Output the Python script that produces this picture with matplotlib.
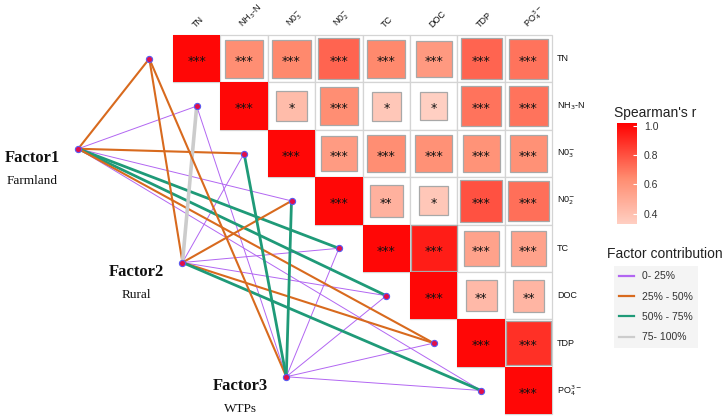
import matplotlib
matplotlib.use("Agg")
import matplotlib.pyplot as plt
import numpy as np
from matplotlib.patches import Rectangle
from matplotlib.colors import LinearSegmentedColormap, Normalize
from matplotlib.lines import Line2D
import matplotlib.colorbar as mcolorbar

# ---------------- data ----------------
variables = ["TN", "NH3-N", "NO3", "NO2", "TC", "DOC", "TDP", "PO4"]
top_labels = ["TN", r"NH$_3$-N", r"N0$_3^{-}$", r"N0$_2^{-}$", "TC", "DOC", "TDP", r"PO$_4^{3-}$"]
right_labels = ["TN", r"NH$_3$-N", r"N0$_3^{-}$", r"N0$_2^{-}$", "TC", "DOC", "TDP", r"PO$_4^{3-}$"]

# Spearman's r (upper triangle, row i, col j>i)
r_TN  = [1.00, 0.63, 0.65, 0.75, 0.65, 0.58, 0.75, 0.71]
r_NH3 = [1.00, 0.42, 0.63, 0.37, 0.33, 0.71, 0.71]
r_NO3 = [1.00, 0.57, 0.63, 0.62, 0.61, 0.62]
r_NO2 = [1.00, 0.47, 0.37, 0.80, 0.72]
r_TC  = [1.00, 0.94, 0.54, 0.54]
r_DOC = [1.00, 0.43, 0.45]
r_TDP = [1.00, 0.89]
r_PO4 = [1.00]
r_rows = [r_TN, r_NH3, r_NO3, r_NO2, r_TC, r_DOC, r_TDP, r_PO4]

sig_TN  = ["***", "***", "***", "***", "***", "***", "***", "***"]
sig_NH3 = ["***", "*", "***", "*", "*", "***", "***"]
sig_NO3 = ["***", "***", "***", "***", "***", "***"]
sig_NO2 = ["***", "**", "*", "***", "***"]
sig_TC  = ["***", "***", "***", "***"]
sig_DOC = ["***", "**", "**"]
sig_TDP = ["***", "***"]
sig_PO4 = ["***"]
sig_rows = [sig_TN, sig_NH3, sig_NO3, sig_NO2, sig_TC, sig_DOC, sig_TDP, sig_PO4]

# Factor contribution class per variable (0: 0-25%, 1: 25-50%, 2: 50-75%, 3: 75-100%)
factor_names = ["Factor1", "Factor2", "Factor3"]
factor_sources = ["Farmland", "Rural", "WTPs"]
factor1_class = [1, 0, 1, 0, 2, 2, 1, 0]
factor2_class = [1, 3, 0, 1, 0, 0, 1, 2]
factor3_class = [1, 0, 2, 2, 0, 0, 0, 0]
factor_classes = [factor1_class, factor2_class, factor3_class]

class_labels = ["0- 25%", "25% - 50%", "50% - 75%", "75- 100%"]

# ---------------- styles / layout ----------------
class_colors = ["#B266F2", "#D86A1E", "#1F9A78", "#CCCCCC"]
class_widths = [0.7, 1.5, 2.0, 2.6]
factor_pos = [(-2.50, 1.90), (-0.30, 4.30), (1.89, 6.71)]

cmap = LinearSegmentedColormap.from_list(
    "sp", [(0.0, "#FFCFC2"), (0.45, "#FF8C70"), (1.0, "#FF0000")])
norm = Normalize(vmin=0.33, vmax=1.02)

W, H = 724, 418
fig = plt.figure(figsize=(W / 100, H / 100), dpi=100)
ax = fig.add_axes([0, 0, 1, 1])
cell = 47.4
x0, y0 = 173, 35
ax.set_xlim(-x0 / cell - 0.5, (W - x0) / cell - 0.5)
ax.set_ylim((H - y0) / cell - 0.5, -y0 / cell - 0.5)
ax.axis("off")

n = len(variables)
# grid + squares
for i in range(n):
    for k, r in enumerate(r_rows[i]):
        j = i + k
        ax.add_patch(Rectangle((j - 0.5, i - 0.5), 1, 1, facecolor="white",
                               edgecolor="#D4D4D4", lw=0.9, zorder=1))
for i in range(n):
    for k, r in enumerate(r_rows[i]):
        j = i + k
        if j == i:
            ax.add_patch(Rectangle((j - 0.5, i - 0.5), 1, 1, facecolor=cmap(norm(r)),
                                   edgecolor="none", zorder=2))
        else:
            s = np.sqrt(abs(r))
            ax.add_patch(Rectangle((j - s / 2, i - s / 2), s, s, facecolor=cmap(norm(r)),
                                   edgecolor="#A8A8A8", lw=0.9, zorder=2))
        ax.text(j, i + 0.06, sig_rows[i][k], ha="center", va="center",
                fontsize=9, color="#111111", zorder=3, family="DejaVu Sans")

# labels
for j, lab in enumerate(top_labels):
    ax.text(j - 0.06, -0.69, lab, rotation=45, rotation_mode="anchor",
            ha="left", va="center", fontsize=6.5, family="Liberation Sans", color="#111111")
for i, lab in enumerate(right_labels):
    ax.text(7.6, i, lab, ha="left", va="center", fontsize=6.5,
            family="Liberation Sans", color="#111111")

# network
node_x = [i - 1 for i in range(n)]
node_y = [i for i in range(n)]
for f, (fx, fy) in enumerate(factor_pos):
    for v in range(n):
        c = factor_classes[f][v]
        ax.plot([fx, node_x[v]], [fy, node_y[v]], color=class_colors[c],
                lw=class_widths[c], zorder=4 + (0 if c == 0 else 1), solid_capstyle="round")
ax.scatter(node_x + [p[0] for p in factor_pos], node_y + [p[1] for p in factor_pos],
           s=20, facecolor="#E0104A", edgecolor="#5A5AF0", linewidth=0.8, zorder=8)

for f, (fx, fy) in enumerate(factor_pos):
    ax.annotate(factor_names[f], (fx, fy), xytext=(-33, -7), textcoords="offset points",
                ha="center", va="center", fontsize=12, fontweight="bold",
                family="Liberation Serif", color="#111111")
    ax.annotate(factor_sources[f], (fx, fy), xytext=(-33, -23.5), textcoords="offset points",
                ha="center", va="center", fontsize=9.5, family="Liberation Serif", color="#111111")

# colorbar
fig.text(614 / W, 1 - 113 / H, "Spearman's r", ha="left", va="center",
         fontsize=10, family="Liberation Sans", color="#222222")
cax = fig.add_axes([617 / W, 1 - 224 / H, 20 / W, 101 / H])
cb = mcolorbar.ColorbarBase(cax, cmap=cmap, norm=norm, ticks=[0.4, 0.6, 0.8, 1.0])
cb.outline.set_visible(False)
cb.ax.tick_params(length=3, color="white", direction="in", labelsize=7.5,
                  labelcolor="#333333", pad=5)
for t in cb.ax.get_yticklabels():
    t.set_family("Liberation Sans")
cb.ax.set_yticklabels(["0.4", "0.6", "0.8", "1.0"])

# factor contribution legend
fig.text(607 / W, 1 - 254 / H, "Factor contribution", ha="left", va="center",
         fontsize=10, family="Liberation Sans", color="#222222")
handles = [Line2D([0], [0], color=class_colors[c], lw=1.6) for c in range(4)]
leg = fig.legend(handles, class_labels, loc="upper left",
                 bbox_to_anchor=(614 / W, 1 - 266 / H), frameon=True,
                 prop={"family": "Liberation Sans", "size": 7.5},
                 handlelength=1.4, handletextpad=0.8, labelspacing=1.0,
                 borderpad=0.5, fancybox=False, borderaxespad=0)
leg.get_frame().set_facecolor("#F2F2F2")
leg.get_frame().set_edgecolor("none")
for t in leg.get_texts():
    t.set_color("#333333")

fig.savefig("out.png", dpi=100)
